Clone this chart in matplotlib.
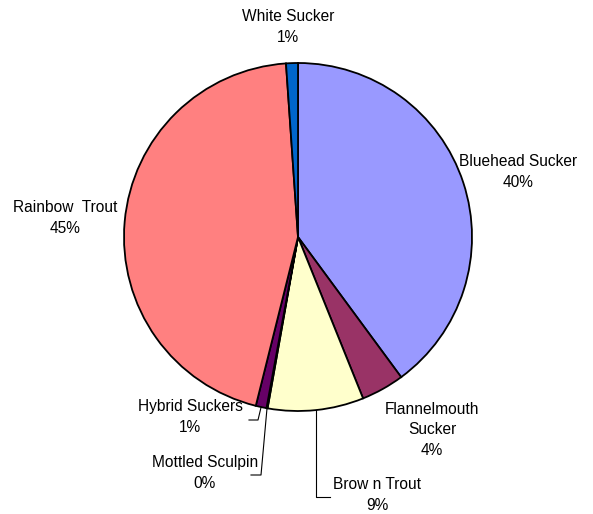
import matplotlib
matplotlib.use("Agg")
import matplotlib.pyplot as plt
import numpy as np

species = ["Bluehead Sucker", "Flannelmouth\nSucker", "Brow n Trout", "Mottled Sculpin",
           "Hybrid Suckers", "Rainbow  Trout", "White Sucker"]
percents = [39.9, 4.0, 8.9, 0.1, 1.0, 45.0, 1.1]
pct_labels = ["40%", "4%", "9%", "0%", "1%", "45%", "1%"]
colors = ["#9999FF", "#993366", "#FFFFCC", "#FFFFFF", "#660066", "#FF8080", "#0066CC"]

W, H = 593, 514
fig = plt.figure(figsize=(W / 100, H / 100), dpi=100)
ax = fig.add_axes([0, 0, 1, 1])
ax.set_axis_off()

cx, cy, R = 298, H - 237, 174
wedges, _ = ax.pie(percents, colors=colors, startangle=90, counterclock=False,
                   center=(cx, cy), radius=R,
                   wedgeprops=dict(edgecolor="black", linewidth=1.3))
ax.set_xlim(0, W)
ax.set_ylim(0, H)
ax.set_aspect("equal")

font = dict(family=["Liberation Sans", "DejaVu Sans"], fontsize=11.2, color="black",
            ha="center", va="center", linespacing=1.45)

# label positions (pixel coords, top-origin)
label_pos = {
    0: (518, 172),
    1: (432, 430),
    2: (377, 495),
    3: (205, 473),
    4: (190, 417),
    5: (65, 218),
    6: (288, 27),
}
for i, (x, y) in label_pos.items():
    ax.text(x, H - y, species[i] + "\n" + pct_labels[i], **font)

def edge_mid(w):
    a = np.deg2rad((w.theta1 + w.theta2) / 2)
    return cx + R * np.cos(a), cy + R * np.sin(a)

lk = dict(color="black", linewidth=0.8)
# Hybrid Suckers leader
x0, y0 = edge_mid(wedges[4])
ax.plot([x0, 258, 249], [y0, H - 420, H - 420], **lk)
# Mottled Sculpin leader
x0, y0 = edge_mid(wedges[3])
ax.plot([x0, 261, 251], [y0, H - 475, H - 475], **lk)
# Brown Trout leader
x0, y0 = edge_mid(wedges[2])
ax.plot([x0, x0, 330], [y0, H - 497, H - 497], **lk)

fig.savefig("out.png", dpi=100)
